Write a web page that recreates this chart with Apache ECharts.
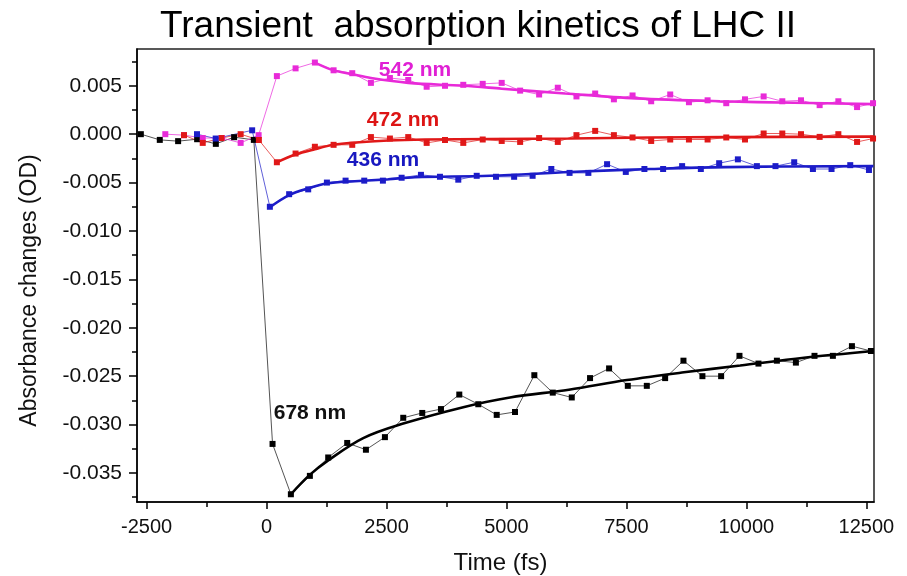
<!DOCTYPE html>
<html><head><meta charset="utf-8">
<script src="https://cdn.jsdelivr.net/npm/echarts@6/dist/echarts.min.js"></script>
<style>html,body{margin:0;padding:0;background:#fff}#c{width:907px;height:576px}</style>
</head><body><div id="c"></div>
<script>
// ---- data ----
const t678 = [-2620,-2225,-1843,-1447,-1057,-676,-265,125,507,903,1285,1681,2071,2467,2849,3245,3635,4017,4413,4797,5178,5581,5965,6361,6742,7139,7529,7925,8307,8689,9084,9474,9856,10252,10636,11032,11420,11803,12200,12596];
const y678 = [0,-0.00059,-0.00072,-0.00052,-0.0010,-0.00031,-0.00059,-0.0320,-0.0372,-0.0353,-0.0334,-0.0319,-0.0326,-0.0313,-0.0293,-0.0288,-0.0284,-0.0269,-0.0279,-0.0290,-0.0287,-0.0249,-0.0267,-0.0272,-0.0252,-0.0242,-0.0260,-0.0260,-0.0252,-0.0234,-0.0250,-0.0250,-0.0229,-0.0237,-0.0234,-0.0236,-0.0229,-0.0229,-0.0219,-0.0224];

const t542 = [-2110,-1720,-1330,-930,-540,-165,215,605,1007,1397,1786,2175,2571,2953,3337,3719,4100,4505,4901,5285,5681,6070,6459,6849,7239,7628,8016,8413,8803,9192,9581,9971,10360,10749,11139,11527,11917,12307,12640];
const y542 = [0.0,-0.0001,-0.0004,-0.0004,-0.0009,-0.0001,0.0060,0.0068,0.0074,0.0066,0.0063,0.0053,0.0058,0.0056,0.0049,0.0050,0.0051,0.0052,0.0053,0.0045,0.0041,0.0048,0.0039,0.0042,0.0036,0.0040,0.0034,0.0041,0.0033,0.0035,0.0032,0.0036,0.0039,0.0034,0.0035,0.0030,0.0034,0.0028,0.0032];

const t472 = [-1720,-1330,-940,-540,-160,215,605,1007,1397,1786,2175,2571,2953,3337,3719,4100,4505,4901,5285,5681,6070,6459,6849,7239,7628,8016,8413,8803,9192,9581,9971,10360,10749,11139,11527,11917,12307,12640];
const y472 = [-0.0001,-0.0009,-0.0004,0.0,-0.0006,-0.0029,-0.0020,-0.0013,-0.0011,-0.0011,-0.0003,-0.00045,-0.0003,-0.0009,-0.0006,-0.0009,-0.00055,-0.0007,-0.0008,-0.0004,-0.0008,-0.0001,0.00034,-0.0001,-0.00034,-0.0007,-0.00055,-0.00055,-0.00055,-0.00034,-0.00055,0.00007,0.00007,0.0,-0.00028,0.0,-0.0008,-0.00045];

const t436 = [-1450,-1060,-300,69,471,868,1258,1647,2036,2425,2815,3218,3614,3996,4380,4782,5160,5545,5935,6315,6707,7097,7487,7875,8265,8661,9051,9433,9823,10219,10607,10997,11387,11775,12165,12555];
const y436 = [0.0,-0.00045,0.0004,-0.0075,-0.0062,-0.0057,-0.0050,-0.0048,-0.0048,-0.0048,-0.0045,-0.0042,-0.0044,-0.0047,-0.0043,-0.0044,-0.0044,-0.0043,-0.0036,-0.0040,-0.0040,-0.0031,-0.0039,-0.0036,-0.0036,-0.0033,-0.0036,-0.0030,-0.0026,-0.0033,-0.0033,-0.0029,-0.0036,-0.0036,-0.0032,-0.0037];

// fitted curves
const fitT678 = [507,900,1285,2015,2849,4100,5074,6300,7508,8700,9871,11200,12650];
const fitY678 = [-0.0372,-0.0352,-0.0337,-0.0314,-0.0299,-0.0282,-0.0272,-0.0264,-0.0254,-0.0246,-0.0239,-0.0231,-0.0224];
const fitT542 = [1007,1397,1786,2175,2953,4100,4900,6225,7700,9450,11000,12650];
const fitY542 = [0.0074,0.0066,0.0062,0.0058,0.0053,0.0050,0.0047,0.0042,0.0037,0.0034,0.00325,0.0031];
const fitT472 = [215,605,1007,1397,1786,2536,3300,4657,6325,8000,9558,12650];
const fitY472 = [-0.0029,-0.0021,-0.00155,-0.0011,-0.00088,-0.00065,-0.00055,-0.0005,-0.00045,-0.00035,-0.0003,-0.00025];
const fitT436 = [69,471,868,1258,1841,2536,3093,4657,6325,8000,9558,12650];
const fitY436 = [-0.00755,-0.0063,-0.0056,-0.0051,-0.00487,-0.00465,-0.00445,-0.0043,-0.0039,-0.0036,-0.0034,-0.0033];

// annotation labels
const labelNames = ['542 nm','472 nm','436 nm','678 nm'];
const labelX = [3093,2843,2426,904];
const labelY = [0.0066,0.00145,-0.0027,-0.0288];
const labelColors = ['#e020d4','#dd1414','#1818c0','#111111'];

// ticks
const xMajor = [-2500,0,2500,5000,7500,10000,12500];
const xMinor = [-1250,1250,3750,6250,8750,11250];
const yMajor = [-0.035,-0.030,-0.025,-0.020,-0.015,-0.010,-0.005,0.000,0.005];
const yMinor = [-0.0375,-0.0325,-0.0275,-0.0225,-0.0175,-0.0125,-0.0075,-0.0025,0.0025,0.0075];

const xMin = -2700, xMax = 12660, yMin = -0.038, yMax = 0.0088;

// ---- chart ----
const FONT = 'Liberation Sans, Arial, sans-serif';
const pairs = (t, y) => t.map((v, i) => [v, y[i]]);
const chart = echarts.init(document.getElementById('c'), null, {renderer: 'canvas'});

function dataSeries(t, y, color, lineColor) {
  return {
    type: 'line', data: pairs(t, y), symbol: 'rect', symbolSize: 6,
    itemStyle: {color: color}, lineStyle: {color: lineColor, width: 1},
    clip: false, z: 3, silent: true
  };
}
function fitSeries(t, y, color) {
  return {
    type: 'line', data: pairs(t, y), smooth: 0.35, showSymbol: false, symbol: 'none',
    lineStyle: {color: color, width: 2.6}, z: 4, silent: true
  };
}

const option = {
  animation: false,
  backgroundColor: '#fff',
  title: {
    text: 'Transient  absorption kinetics of LHC II',
    left: 155, top: 3,
    textStyle: {fontSize: 37, fontWeight: 'normal', color: '#000', fontFamily: FONT}
  },
  grid: {left: 137, right: 33, top: 49, bottom: 74, show: true, borderColor: '#222', borderWidth: 1.5,
    backgroundColor: 'transparent', containLabel: false, outerBoundsMode: 'none'},
  xAxis: [
    {
      type: 'value', min: xMin, max: xMax, position: 'bottom',
      axisLine: {show: true, onZero: false, lineStyle: {color: '#000', width: 1.5}},
      axisTick: {show: true, length: 7, customValues: xMajor, lineStyle: {color: '#000', width: 1.5}},
      axisLabel: {customValues: xMajor, fontSize: 20, color: '#111', margin: 15, fontFamily: FONT,
        formatter: v => String(v)},
      splitLine: {show: false},
      name: 'Time (fs)', nameLocation: 'middle', nameGap: 49,
      nameTextStyle: {fontSize: 24, color: '#111', fontFamily: FONT, padding: [0, 10, 0, 0]}
    },
    {
      type: 'value', min: xMin, max: xMax, position: 'bottom',
      axisLine: {show: false, onZero: false},
      axisTick: {show: true, length: 5, customValues: xMinor, lineStyle: {color: '#000', width: 1.5}},
      axisLabel: {show: false}, splitLine: {show: false}
    }
  ],
  yAxis: [
    {
      type: 'value', min: yMin, max: yMax, position: 'left',
      axisLine: {show: true, onZero: false, lineStyle: {color: '#000', width: 1.5}},
      axisTick: {show: true, length: 8, customValues: yMajor, lineStyle: {color: '#000', width: 1.5}},
      axisLabel: {customValues: yMajor, fontSize: 21, color: '#111', margin: 15, fontFamily: FONT,
        formatter: v => v.toFixed(3)},
      splitLine: {show: false},
      name: 'Absorbance changes (OD)', nameLocation: 'middle', nameGap: 96,
      nameTextStyle: {fontSize: 23, color: '#111', fontFamily: FONT, padding: [0, 30, 0, 0]}
    },
    {
      type: 'value', min: yMin, max: yMax, position: 'left',
      axisLine: {show: false, onZero: false},
      axisTick: {show: true, length: 5, customValues: yMinor, lineStyle: {color: '#000', width: 1.5}},
      axisLabel: {show: false}, splitLine: {show: false}
    }
  ],
  series: [
    dataSeries(t678, y678, '#000', '#555'),
    dataSeries(t542, y542, '#e82ad8', 'rgba(232,42,216,0.7)'),
    dataSeries(t472, y472, '#e01818', 'rgba(224,24,24,0.7)'),
    dataSeries(t436, y436, '#1c1cc8', 'rgba(28,28,200,0.7)'),
    fitSeries(fitT678, fitY678, '#000'),
    fitSeries(fitT542, fitY542, '#e82ad8'),
    fitSeries(fitT472, fitY472, '#e01818'),
    fitSeries(fitT436, fitY436, '#1c1cc8'),
    {
      type: 'scatter', symbolSize: 1, itemStyle: {color: 'rgba(0,0,0,0)', opacity: 1}, z: 6, silent: true,
      data: labelNames.map((n, i) => ({
        value: [labelX[i], labelY[i]], name: n,
        label: {show: true, position: 'inside', formatter: n, color: labelColors[i],
          fontSize: 21, fontWeight: 'bold', fontFamily: FONT}
      }))
    }
  ]
};
chart.setOption(option);
</script>
</body></html>
